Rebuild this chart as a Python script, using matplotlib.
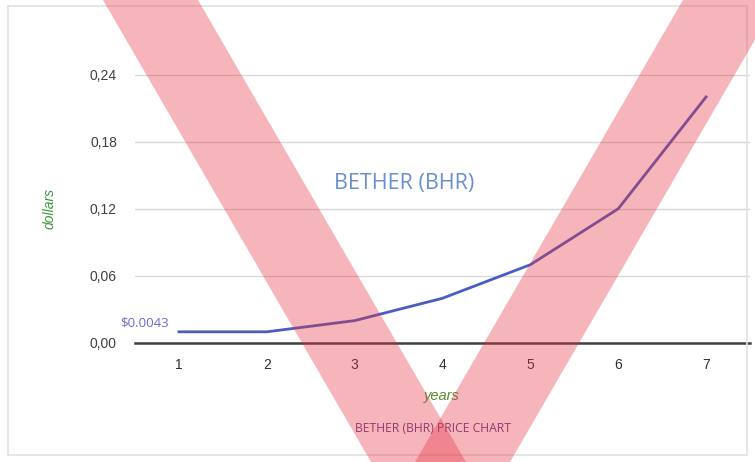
import matplotlib
matplotlib.use("Agg")
import matplotlib.pyplot as plt
from matplotlib.patches import Polygon, Rectangle
from matplotlib.ticker import FuncFormatter

years = [1, 2, 3, 4, 5, 6, 7]
price = [0.01, 0.01, 0.02, 0.04, 0.07, 0.12, 0.22]
yticks = [0.0, 0.06, 0.12, 0.18, 0.24]
start_label = "$0.0043"
title = "BETHER (BHR)"
subtitle = "BETHER (BHR) PRICE CHART"

W, H = 755, 462
fig = plt.figure(figsize=(W / 100, H / 100), dpi=100)
plt.rcParams['font.family'] = ['Liberation Sans', 'DejaVu Sans']

def fx(px):
    return px / W

def fy(py):
    return 1 - py / H

# outer border
fig.patches.append(Rectangle((fx(8), fy(455)), fx(747) - fx(8), fy(6) - fy(455),
                             transform=fig.transFigure, fill=False,
                             edgecolor='#e2e2e2', linewidth=1.2, zorder=0))

ax = fig.add_axes([fx(135), fy(343), fx(750) - fx(135), fy(41) - fy(343)])
ax.plot(years, price, color='#4a5cc0', linewidth=2.0, zorder=3)
ax.set_xlim(0.5, 7.5)
ax.set_ylim(0, 0.27)
ax.set_yticks(yticks)
ax.set_xticks(years)
ax.yaxis.set_major_formatter(FuncFormatter(lambda v, p: f"{v:.2f}".replace('.', ',')))
ax.grid(axis='y', color='#d9d9d9', linewidth=1.0)
ax.set_axisbelow(True)
for s in ['top', 'right', 'left']:
    ax.spines[s].set_visible(False)
ax.spines['bottom'].set_color('#404040')
ax.spines['bottom'].set_linewidth(1.8)
ax.spines['bottom'].set_zorder(4)
ax.tick_params(axis='y', length=0, pad=13, labelsize=10, labelcolor='#404040')
ax.tick_params(axis='x', length=0, pad=11, labelsize=10, labelcolor='#303030')

ax.annotate(start_label, xy=(years[0], price[0]), xytext=(-7, 1.5), textcoords='offset points',
            ha='right', va='bottom', fontsize=9.5, color='#6a6ac8', family=['Open Sans', 'DejaVu Sans'])

fig.text(fx(404), fy(183), title, ha='center', va='center', fontsize=15.5,
         color='#6a8fd0', family=['Open Sans', 'DejaVu Sans'])
fig.text(fx(50), fy(208), 'dollars', ha='center', va='center', rotation=90,
         fontsize=10, style='italic', color='#3a9a3a')
fig.text(fx(442), fy(396), 'years', ha='center', va='center',
         fontsize=10.5, style='italic', color='#5a8a2a')
fig.text(fx(433), fy(429), subtitle, ha='center', va='center',
         fontsize=8.7, color='#6a3a8a', family=['Open Sans', 'DejaVu Sans'])

# watermark V overlay
for pts in ([(103, 0), (198, 0), (466, 462), (371, 462)],
            [(683, 0), (778, 0), (510, 462), (415, 462)]):
    fig.patches.append(Polygon([(fx(x), fy(y)) for x, y in pts], closed=True,
                               transform=fig.transFigure, facecolor='#e63240',
                               edgecolor='none', alpha=0.36, zorder=10))

fig.savefig('out.png', dpi=100)
